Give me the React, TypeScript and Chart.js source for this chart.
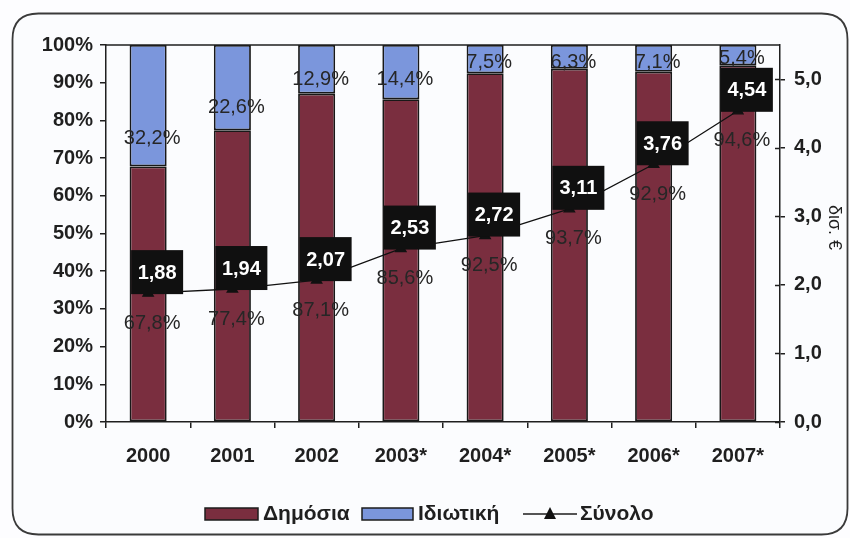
import React, { useEffect, useRef } from 'react';
import { Chart, registerables } from 'chart.js';

Chart.register(...registerables);

// Categories (years; * = estimate)
const years = ['2000', '2001', '2002', '2003*', '2004*', '2005*', '2006*', '2007*'];
// Share of public spending, %
const publicShare = [67.8, 77.4, 87.1, 85.6, 92.5, 93.7, 92.9, 94.6];
// Share of private spending, %
const privateShare = [32.2, 22.6, 12.9, 14.4, 7.5, 6.3, 7.1, 5.4];
// Total spending, bn €
const totalBn = [1.88, 1.94, 2.07, 2.53, 2.72, 3.11, 3.76, 4.54];
// Right-axis ticks, bn €
const amountTicks = [0, 1, 2, 3, 4, 5];
// Vertical anchor (in % axis units) of the private-share labels
const privateLabelAt = [75.5, 83.7, 91.1, 91.1, 95.6, 95.6, 95.6, 96.6];

const FONT = '"Liberation Sans", Arial, Helvetica, sans-serif';
const RED = '#7a2e3f';
const BLUE = '#7b96dc';
const INK = '#1f1f1f';

const fmt1 = (v: number) => v.toFixed(1).replace('.', ',');
const fmt2 = (v: number) => v.toFixed(2).replace('.', ',');

function roundRectPath(ctx: CanvasRenderingContext2D, x: number, y: number, w: number, h: number, r: number) {
  ctx.beginPath();
  ctx.moveTo(x + r, y);
  ctx.lineTo(x + w - r, y);
  ctx.quadraticCurveTo(x + w, y, x + w, y + r);
  ctx.lineTo(x + w, y + h - r);
  ctx.quadraticCurveTo(x + w, y + h, x + w - r, y + h);
  ctx.lineTo(x + r, y + h);
  ctx.quadraticCurveTo(x, y + h, x, y + h - r);
  ctx.lineTo(x, y + r);
  ctx.quadraticCurveTo(x, y, x + r, y);
  ctx.closePath();
}

const framePlugin = {
  id: 'frame',
  beforeDraw(chart: any) {
    const { ctx, width, height } = chart;
    ctx.save();
    ctx.fillStyle = '#fdfdff';
    ctx.fillRect(0, 0, width, height);
    roundRectPath(ctx, 12.5, 13.5, 835, 521, 26);
    ctx.fillStyle = '#fbfcfe';
    ctx.fill();
    ctx.strokeStyle = '#3a3a3a';
    ctx.lineWidth = 1.8;
    ctx.stroke();
    ctx.restore();
  },
};

const decorPlugin = {
  id: 'decor',
  afterDatasetsDraw(chart: any) {
    const { ctx, chartArea: a, scales } = chart;
    const x = scales.x;
    const yP = scales.y;
    const yA = scales.y1;
    ctx.save();

    // plot frame top edge and inward halves of the right-axis ticks
    ctx.strokeStyle = INK;
    ctx.lineWidth = 1.5;
    ctx.beginPath();
    ctx.moveTo(a.left, a.top);
    ctx.lineTo(a.right, a.top);
    for (const v of amountTicks) {
      const py = Math.round(yA.getPixelForValue(v)) + 0.5;
      ctx.moveTo(a.right - 5, py);
      ctx.lineTo(a.right, py);
    }
    ctx.stroke();

    // percentage labels
    ctx.fillStyle = '#262626';
    ctx.font = `20px ${FONT}`;
    ctx.textAlign = 'center';
    ctx.textBaseline = 'middle';
    years.forEach((_, i) => {
      const cx = x.getPixelForValue(i) + 4;
      ctx.fillText(fmt1(privateShare[i]) + '%', cx, yP.getPixelForValue(privateLabelAt[i]) + 1);
      ctx.fillText(fmt1(publicShare[i]) + '%', cx, yA.getPixelForValue(totalBn[i]) + 30);
    });

    // total value boxes
    ctx.font = `bold 20px ${FONT}`;
    years.forEach((_, i) => {
      const px = x.getPixelForValue(i) + 9;
      const py = yA.getPixelForValue(totalBn[i]) - 21;
      ctx.fillStyle = '#101010';
      ctx.fillRect(px - 26, py - 22, 52, 44);
      ctx.fillStyle = '#ffffff';
      ctx.fillText(fmt2(totalBn[i]), px, py + 1);
    });

    // right axis title
    ctx.fillStyle = INK;
    ctx.font = `18px ${FONT}`;
    ctx.translate(834, (a.top + a.bottom) / 2 - 6);
    ctx.rotate(Math.PI / 2);
    ctx.fillText('δισ. €', 0, 0);
    ctx.restore();
  },
  afterDraw(chart: any) {
    const { ctx } = chart;
    ctx.save();
    const cy = 514;
    ctx.font = `bold 21px ${FONT}`;
    ctx.textBaseline = 'middle';
    ctx.textAlign = 'left';
    ctx.lineWidth = 1.5;
    ctx.strokeStyle = '#1c1c1c';

    ctx.fillStyle = RED;
    ctx.fillRect(205, cy - 6, 53, 12);
    ctx.strokeRect(205, cy - 6, 53, 12);
    ctx.fillStyle = INK;
    ctx.fillText('Δημόσια', 263, cy);

    ctx.fillStyle = BLUE;
    ctx.fillRect(362, cy - 6, 51, 12);
    ctx.strokeRect(362, cy - 6, 51, 12);
    ctx.fillStyle = INK;
    ctx.fillText('Ιδιωτική', 418, cy);

    ctx.beginPath();
    ctx.moveTo(523, cy);
    ctx.lineTo(577, cy);
    ctx.stroke();
    ctx.fillStyle = '#111';
    ctx.beginPath();
    ctx.moveTo(550, cy - 7);
    ctx.lineTo(556, cy + 5);
    ctx.lineTo(544, cy + 5);
    ctx.closePath();
    ctx.fill();
    ctx.fillStyle = INK;
    ctx.fillText('Σύνολο', 580, cy);
    ctx.restore();
  },
};

export default function App() {
  const ref = useRef<HTMLCanvasElement | null>(null);

  useEffect(() => {
    document.body.style.margin = '0';
    const canvas = ref.current;
    if (!canvas) return;
    const tickFont = { family: FONT, size: 20, weight: 'bold' as const };

    const chart = new Chart(canvas, {
      data: {
        labels: years,
        datasets: [
          {
            type: 'line' as const,
            label: 'Σύνολο',
            data: totalBn,
            yAxisID: 'y1',
            borderColor: '#111',
            borderWidth: 1.3,
            pointStyle: 'triangle',
            pointRadius: 6,
            pointBackgroundColor: '#111',
            pointBorderColor: '#111',
            order: 0,
          },
          {
            type: 'bar' as const,
            label: 'Δημόσια',
            data: publicShare,
            yAxisID: 'y',
            stack: 'share',
            backgroundColor: RED,
            borderColor: '#181818',
            borderWidth: 1.8,
            borderSkipped: false,
            barPercentage: 0.44,
            categoryPercentage: 1,
            order: 1,
          },
          {
            type: 'bar' as const,
            label: 'Ιδιωτική',
            data: privateShare,
            yAxisID: 'y',
            stack: 'share',
            backgroundColor: BLUE,
            borderColor: '#181818',
            borderWidth: 1.8,
            borderSkipped: false,
            barPercentage: 0.44,
            categoryPercentage: 1,
            order: 1,
          },
        ],
      },
      options: {
        animation: false,
        responsive: false,
        devicePixelRatio: 1,
        layout: { padding: { top: 45, left: 0, right: 0, bottom: 0 } },
        plugins: { legend: { display: false }, tooltip: { enabled: false } },
        scales: {
          x: {
            stacked: true,
            offset: true,
            grid: { offset: true, drawOnChartArea: false, tickLength: 6, color: INK, lineWidth: 1.5 },
            border: { display: true, color: INK, width: 1.5 },
            ticks: { font: tickFont, color: INK, padding: 16 },
            afterFit: (s: any) => { s.height = 116; },
          },
          y: {
            stacked: true,
            position: 'left',
            min: 0,
            max: 100,
            ticks: { stepSize: 10, font: tickFont, color: INK, padding: 7, callback: (v: any) => `${v}%` },
            grid: { drawOnChartArea: false, tickLength: 6, color: INK, lineWidth: 1.5 },
            border: { display: true, color: INK, width: 1.5 },
            afterFit: (s: any) => { s.width = 106; },
          },
          y1: {
            position: 'right',
            min: 0,
            max: 5.5,
            afterBuildTicks: (s: any) => { s.ticks = amountTicks.map((v) => ({ value: v })); },
            ticks: { font: tickFont, color: INK, padding: 9, callback: (v: any) => fmt1(Number(v)) },
            grid: { drawOnChartArea: false, tickLength: 5, color: INK, lineWidth: 1.5 },
            border: { display: true, color: INK, width: 1.5 },
            afterFit: (s: any) => { s.width = 70; },
          },
        },
      },
      plugins: [framePlugin, decorPlugin],
    } as any);

    return () => chart.destroy();
  }, []);

  return (
    <div style={{ width: 850, height: 538 }}>
      <canvas ref={ref} width={850} height={538} style={{ display: 'block' }} />
    </div>
  );
}
